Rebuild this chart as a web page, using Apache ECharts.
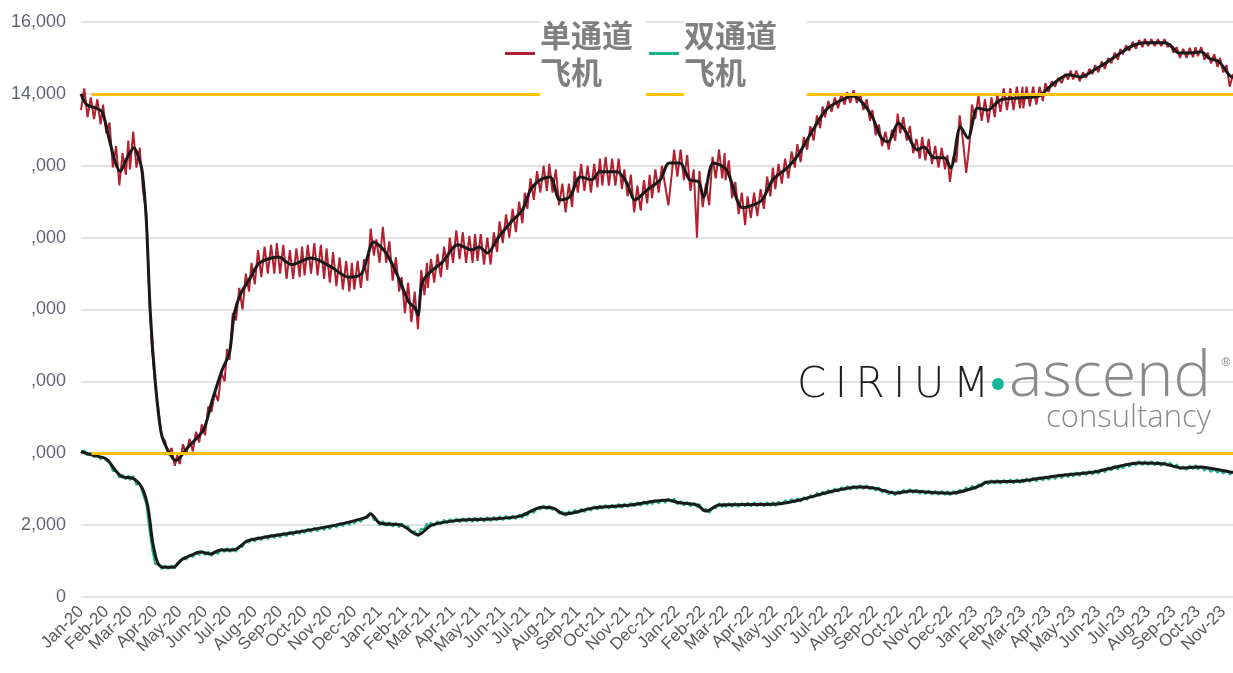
<!DOCTYPE html>
<html>
<head>
<meta charset="UTF-8">
<title>单通道 / 双通道 飞机</title>
<script src="https://cdn.jsdelivr.net/npm/echarts@6/dist/echarts.min.js"></script>
<style>
  html, body { margin: 0; padding: 0; background: #fff; }
  #main { width: 1233px; height: 673px; }
</style>
</head>
<body>
<div id="main"></div>
<script>
// ---- data ----
var monthNames = ['Jan','Feb','Mar','Apr','May','Jun','Jul','Aug','Sep','Oct','Nov','Dec'];
var firstDay = '2020-01-01';
var lastDay = '2023-11-13';
var sampleDays = [1, 5, 9, 13, 17, 21, 25, 28];   // days of each month for the daily series
var yTickLabels = ['0', '2,000', ',000', ',000', ',000', ',000', ',000', '14,000', '16,000'];
var refLevels = [14000, 4000];
var refStart = '2020-01-14';

// narrow-body daily flights (red), 8 samples per month from Jan-20
var narrowDaily = [
  13550,14150,13350,13900,13300,13850,13150,13700,
  12900,13200,11950,12550,11450,12350,11750,12700,
  11900,12950,11950,12500,11300,10700,8200,6900,
  5900,5200,4450,4350,3950,4150,3650,3950,
  3700,4250,3950,4400,4050,4600,4300,4800,
  4500,5300,5150,5700,5450,6250,6000,6900,
  6600,7900,7700,8600,8000,9000,8500,9300,
  8700,9650,8900,9750,9000,9800,9000,9850,
  9000,9800,8850,9650,8850,9700,8900,9750,
  8950,9800,9000,9850,8950,9800,8850,9700,
  8750,9600,8650,9450,8550,9350,8500,9300,
  8550,9350,8600,9400,8800,10250,9500,9950,
  9300,10300,9300,9900,8800,9450,8500,8900,
  7900,8750,7650,8500,7450,9100,8400,9300,
  8600,9400,8750,9550,8900,9750,9100,10000,
  9300,10200,9400,10150,9300,10050,9300,10100,
  9350,10100,9250,10000,9250,10150,9600,10450,
  9850,10650,10000,10800,10150,11000,10400,11250,
  10800,11650,11050,11850,11250,12000,11300,12050,
  11250,11900,10900,11500,10700,11500,10850,11850,
  11250,12050,11300,12000,11250,12050,11400,12200,
  11450,12250,11450,12200,11450,12200,11350,11900,
  11150,11750,10700,11450,10750,11600,10950,11750,
  11100,11900,11250,12000,11450,10900,11750,12450,
  11700,12450,11600,12300,11300,11900,10000,11850,
  10850,11500,10900,12250,11650,12450,11650,12350,
  11600,12150,11100,11550,10650,11250,10350,11150,
  10550,11250,10600,11350,10800,11700,11150,11950,
  11350,12050,11500,12200,11650,12400,11950,12600,
  12100,12800,12450,13100,12700,13400,13050,13650,
  13350,13800,13500,13900,13600,14000,13700,14050,
  13750,14100,13750,14000,13550,13850,13250,13550,
  12850,13150,12550,12950,12450,13000,12700,13450,
  12900,13350,12700,13100,12350,12750,12200,12800,
  12150,12750,12050,12550,11950,12500,11900,12300,
  11550,12250,12100,13400,12700,11800,12600,13700,
  13300,13950,13250,13850,13200,13900,13350,14000,
  13500,14150,13550,14150,13550,14200,13600,14200,
  13600,14200,13650,14200,13700,14200,13800,14300,
  14050,14350,14200,14450,14300,14550,14400,14650,
  14400,14650,14350,14600,14450,14700,14550,14800,
  14600,14900,14700,15000,14850,15150,14950,15250,
  15100,15350,15200,15450,15250,15500,15300,15530,
  15330,15520,15330,15520,15330,15520,15300,15400,
  15150,15300,15000,15250,15000,15280,15020,15300,
  15050,15300,14950,15150,14850,15100,14750,15000,
  14600,14800,14200,14550
];

// wide-body daily flights (green), same sampling
var wideDaily = [
  4000,4080,3940,4010,3890,3960,3830,3910,
  3790,3760,3500,3520,3320,3400,3270,3380,
  3250,3370,3120,3160,2850,2600,1850,1350,
  900,930,780,880,780,880,790,950,
  950,1100,1040,1180,1110,1250,1170,1290,
  1170,1260,1140,1270,1200,1350,1250,1360,
  1250,1360,1260,1420,1390,1570,1510,1640,
  1540,1670,1580,1700,1610,1740,1640,1760,
  1660,1790,1690,1820,1720,1850,1750,1870,
  1780,1900,1810,1930,1830,1950,1860,1980,
  1890,2020,1930,2060,1970,2090,2000,2130,
  2040,2170,2090,2230,2190,2360,2140,2150,
  2000,2110,1980,2080,1960,2060,1940,2050,
  1920,1970,1790,1840,1680,1900,1890,2050,
  1940,2070,1980,2110,2020,2150,2050,2170,
  2070,2190,2080,2190,2090,2200,2090,2210,
  2100,2210,2100,2220,2110,2230,2130,2250,
  2140,2260,2150,2270,2170,2290,2200,2340,
  2260,2410,2340,2490,2430,2550,2440,2540,
  2420,2480,2320,2380,2260,2390,2300,2430,
  2330,2460,2360,2490,2400,2530,2430,2550,
  2450,2560,2460,2570,2470,2590,2480,2600,
  2500,2620,2520,2640,2540,2660,2560,2680,
  2580,2700,2600,2720,2620,2740,2640,2740,
  2580,2670,2540,2650,2520,2620,2500,2590,
  2400,2450,2340,2470,2470,2610,2500,2610,
  2500,2610,2510,2620,2510,2620,2520,2630,
  2520,2630,2520,2630,2520,2640,2530,2640,
  2530,2660,2570,2700,2610,2730,2630,2750,
  2650,2780,2700,2840,2760,2900,2810,2940,
  2850,2980,2890,3020,2930,3060,2970,3090,
  2990,3100,3000,3110,3000,3110,2990,3080,
  2960,3050,2910,3000,2850,2950,2830,2950,
  2860,2990,2890,3000,2890,2990,2870,2970,
  2860,2970,2850,2960,2840,2950,2840,2940,
  2830,2950,2860,2990,2910,3050,2960,3100,
  3000,3140,3070,3220,3140,3250,3150,3260,
  3150,3260,3160,3270,3160,3280,3170,3280,
  3180,3300,3200,3320,3220,3340,3240,3360,
  3260,3380,3280,3410,3310,3430,3330,3450,
  3350,3470,3370,3490,3390,3510,3410,3530,
  3430,3560,3470,3610,3520,3650,3550,3670,
  3580,3710,3620,3750,3660,3780,3670,3780,
  3670,3780,3660,3770,3650,3760,3640,3740,
  3610,3690,3550,3640,3540,3660,3560,3670,
  3550,3640,3510,3610,3480,3570,3450,3550,
  3430,3530,3410,3500
];

// moving averages (black lines)
var narrowAvg = [
  ['2020-01-01',14000],['2020-01-08',13700],['2020-01-20',13600],['2020-01-27',13500],
  ['2020-02-05',12700],['2020-02-12',12100],['2020-02-18',11850],['2020-02-26',12200],
  ['2020-03-06',12500],['2020-03-12',12200],['2020-03-16',11850],['2020-03-21',10500],
  ['2020-03-26',7900],['2020-04-01',6000],['2020-04-08',4600],['2020-04-16',4100],
  ['2020-04-26',3800],['2020-05-11',4170],['2020-05-30',4650],['2020-06-10',5480],
  ['2020-06-22',6320],['2020-07-01',6800],['2020-07-07',7900],['2020-07-15',8450],
  ['2020-07-27',8900],['2020-08-07',9300],['2020-08-30',9460],['2020-09-15',9250],
  ['2020-10-09',9430],['2020-11-03',9180],['2020-11-24',8900],['2020-12-10',9000],
  ['2020-12-25',9880],['2021-01-08',9600],['2021-01-21',9050],['2021-02-06',8200],
  ['2021-02-13',8050],['2021-02-17',7850],['2021-02-22',8740],['2021-03-03',9020],
  ['2021-03-19',9320],['2021-04-07',9800],['2021-04-24',9660],['2021-05-03',9740],
  ['2021-05-13',9570],['2021-05-26',9990],['2021-06-10',10410],['2021-06-25',10770],
  ['2021-07-05',11330],['2021-07-17',11610],['2021-07-29',11690],['2021-08-10',11050],
  ['2021-08-22',11130],['2021-09-04',11690],['2021-09-18',11610],['2021-09-28',11830],
  ['2021-10-19',11830],['2021-10-31',11520],['2021-11-10',11050],['2021-11-25',11330],
  ['2021-12-11',11610],['2021-12-22',12080],['2022-01-04',12080],['2022-01-16',11610],
  ['2022-01-27',11550],['2022-02-02',11130],['2022-02-14',12080],['2022-03-02',11900],
  ['2022-03-22',10830],['2022-04-04',10910],['2022-04-15',11050],['2022-04-28',11610],
  ['2022-05-17',11970],['2022-05-29',12300],['2022-06-11',12800],['2022-07-02',13550],
  ['2022-07-17',13780],['2022-08-04',13940],['2022-08-16',13750],['2022-08-28',13360],
  ['2022-09-08',12770],['2022-09-16',12660],['2022-09-29',13190],['2022-10-09',12910],
  ['2022-10-22',12440],['2022-10-30',12520],['2022-11-12',12220],['2022-11-24',12220],
  ['2022-12-02',11940],['2022-12-14',13080],['2022-12-23',12770],['2023-01-04',13610],
  ['2023-01-16',13550],['2023-02-01',13830],['2023-02-27',13890],['2023-03-20',13940],
  ['2023-04-01',14170],['2023-04-13',14390],['2023-04-25',14530],['2023-05-10',14470],
  ['2023-05-27',14670],['2023-06-12',14890],['2023-06-28',15140],['2023-07-15',15360],
  ['2023-07-28',15420],['2023-08-22',15420],['2023-08-30',15310],['2023-09-07',15140],
  ['2023-09-23',15140],['2023-10-05',15170],['2023-10-14',15000],['2023-10-27',14890],
  ['2023-11-08',14530],['2023-11-13',14450]
];

var wideAvg = [
  ['2020-01-01',4050],['2020-01-15',3950],['2020-02-01',3840],['2020-02-12',3530],
  ['2020-02-21',3340],['2020-03-04',3310],['2020-03-16',3030],['2020-03-23',2500],
  ['2020-03-29',1500],['2020-04-04',950],['2020-04-10',830],['2020-04-23',830],
  ['2020-05-03',1030],['2020-05-16',1170],['2020-05-26',1250],['2020-06-08',1200],
  ['2020-06-20',1310],['2020-07-06',1310],['2020-07-23',1560],['2020-08-10',1650],
  ['2020-09-23',1810],['2020-11-08',2000],['2020-12-14',2200],['2020-12-21',2310],
  ['2021-01-01',2060],['2021-01-28',2000],['2021-02-17',1730],['2021-03-06',2000],
  ['2021-04-11',2140],['2021-05-17',2170],['2021-06-22',2250],['2021-07-19',2500],
  ['2021-08-01',2480],['2021-08-15',2310],['2021-09-21',2480],['2021-11-05',2560],
  ['2021-12-20',2700],['2022-01-03',2620],['2022-01-25',2560],['2022-02-05',2390],
  ['2022-02-21',2560],['2022-05-04',2590],['2022-05-31',2700],['2022-07-06',2920],
  ['2022-08-11',3060],['2022-08-30',3030],['2022-09-26',2890],['2022-10-15',2950],
  ['2022-11-01',2920],['2022-12-03',2890],['2023-01-03',3060],['2023-01-16',3200],
  ['2023-02-26',3230],['2023-04-11',3370],['2023-05-27',3480],['2023-06-23',3620],
  ['2023-07-20',3730],['2023-08-21',3700],['2023-09-12',3590],['2023-09-30',3620],
  ['2023-11-13',3460]
];

// ---- helpers ----
function pad(n) { return (n < 10 ? '0' : '') + n; }

// one category per calendar day
var dates = [];
var d = new Date(firstDay + 'T00:00:00Z');
var end = new Date(lastDay + 'T00:00:00Z');
while (d <= end) {
  dates.push(d.toISOString().slice(0, 10));
  d.setUTCDate(d.getUTCDate() + 1);
}

function sampled(vals) {
  return vals.map(function (v, i) {
    var m = Math.floor(i / sampleDays.length);
    var year = 2020 + Math.floor(m / 12);
    var month = m % 12 + 1;
    return [year + '-' + pad(month) + '-' + pad(sampleDays[i % sampleDays.length]), v];
  });
}

var nameNarrow = '单通道\n飞机';
var nameWide = '双通道\n飞机';

var myChart = echarts.init(document.getElementById('main'), null, { renderer: 'canvas' });

var option = {
  backgroundColor: '#fff',
  animation: false,
  grid: { left: 81, right: 0, top: 22, bottom: 76, containLabel: false },
  legend: {
    left: 505,
    top: 11,
    padding: 0,
    itemGap: 3,
    itemWidth: 30,
    itemHeight: 3,
    icon: 'rect',
    z: 10,
    selectedMode: false,
    textStyle: {
      fontFamily: 'Noto Sans CJK SC',
      fontSize: 31,
      fontWeight: 'bold',
      color: '#808080',
      lineHeight: 37,
      backgroundColor: '#fff'
    },
    data: [
      { name: nameNarrow, textStyle: { padding: [10, 13, 1, 0] } },
      { name: nameWide, textStyle: { padding: [10, 30, 1, 0] } }
    ]
  },
  xAxis: {
    type: 'category',
    data: dates,
    boundaryGap: false,
    axisLine: { show: false },
    axisTick: { show: false },
    splitLine: { show: false },
    axisLabel: {
      rotate: 45,
      margin: 12,
      fontFamily: 'Liberation Sans',
      fontSize: 17,
      color: '#595959',
      interval: function (index, value) { return value.slice(8) === '01'; },
      formatter: function (value) {
        return monthNames[parseInt(value.slice(5, 7), 10) - 1] + '-' + value.slice(2, 4);
      }
    }
  },
  yAxis: {
    type: 'value',
    min: 0,
    max: 16000,
    interval: 2000,
    axisLine: { show: false },
    axisTick: { show: false },
    splitLine: { lineStyle: { color: '#e3e3e3', width: 2 } },
    axisLabel: {
      margin: 15,
      fontFamily: 'Liberation Sans',
      fontSize: 18,
      color: '#5f6470',
      formatter: function (v) { return yTickLabels[Math.round(v / 2000)]; }
    }
  },
  graphic: [
    { type: 'text', left: 797, top: 365, z: 5,
      style: { text: 'C\u2009I\u2009R\u2009I\u2009U\u2009M', fontFamily: 'DejaVu Sans', fontWeight: 200, fontSize: 42, fill: '#231f20' } },
    { type: 'circle', shape: { cx: 998, cy: 384, r: 6 }, style: { fill: '#12b896' }, z: 5 },
    { type: 'text', left: 1009, top: 347, z: 5,
      style: { text: 'ascend', fontFamily: 'Open Sans', fontWeight: 300, fontSize: 63, fill: '#8a8a8a' } },
    { type: 'text', left: 1220, top: 357, z: 5,
      style: { text: '®', fontFamily: 'DejaVu Sans', fontSize: 12, fill: '#8a8a8a' } },
    { type: 'text', left: 1046, top: 403, z: 5,
      style: { text: 'consultancy', fontFamily: 'Open Sans', fontWeight: 300, fontSize: 31, fill: '#8a8a8a' } }
  ],
  series: [
    {
      name: nameNarrow,
      type: 'line',
      symbol: 'none',
      z: 2,
      color: '#b3202f',
      lineStyle: { width: 2, color: '#b3202f' },
      data: sampled(narrowDaily)
    },
    {
      name: nameWide,
      type: 'line',
      symbol: 'none',
      z: 2,
      color: '#19b48e',
      lineStyle: { width: 2, color: '#19b48e' },
      data: sampled(wideDaily)
    },
    {
      name: 'ref',
      type: 'line',
      symbol: 'none',
      z: 3,
      data: [],
      markLine: {
        silent: true,
        symbol: 'none',
        label: { show: false },
        lineStyle: { color: '#ffc000', width: 3, type: 'solid' },
        data: refLevels.map(function (lv) {
          return [{ coord: [refStart, lv] }, { coord: [lastDay, lv] }];
        })
      }
    },
    {
      name: 'narrowAvg',
      type: 'line',
      symbol: 'none',
      smooth: 0.3,
      z: 4,
      lineStyle: { width: 3, color: '#1a1a1a' },
      data: narrowAvg
    },
    {
      name: 'wideAvg',
      type: 'line',
      symbol: 'none',
      smooth: 0.3,
      z: 4,
      lineStyle: { width: 3, color: '#1a1a1a' },
      data: wideAvg
    }
  ]
};

myChart.setOption(option);
</script>
</body>
</html>
